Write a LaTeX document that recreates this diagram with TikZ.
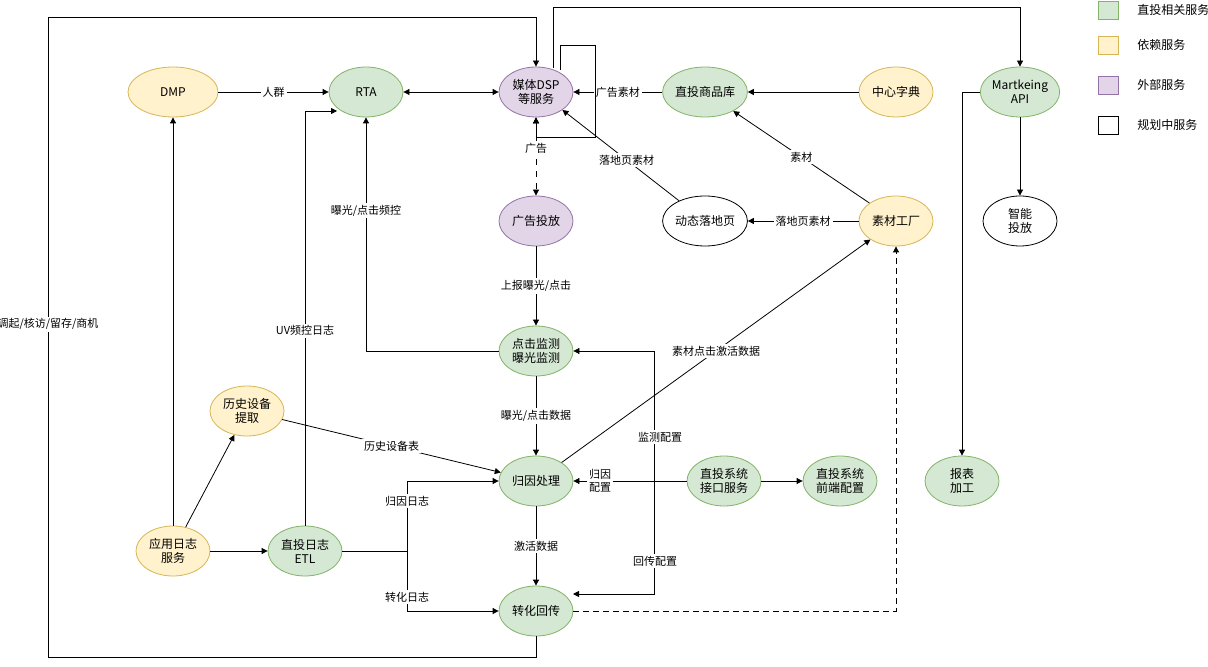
\documentclass[tikz,border=0pt]{standalone}
\usepackage{fontspec}
\setmainfont{Noto Sans CJK SC}
\usetikzlibrary{shapes.geometric,arrows.meta}
\definecolor{gfill}{HTML}{D5E8D4}\definecolor{gline}{HTML}{82B366}
\definecolor{yfill}{HTML}{FFF2CC}\definecolor{yline}{HTML}{D6B656}
\definecolor{pfill}{HTML}{E1D5E7}\definecolor{pline}{HTML}{9673A6}
\tikzset{
  svc/.style={ellipse,draw,minimum width=37pt,minimum height=25pt,inner sep=0pt,
    align=center,font=\fontsize{6}{7}\selectfont},
  grn/.style={svc,fill=gfill,draw=gline},
  ylw/.style={svc,fill=yfill,draw=yline},
  ppl/.style={svc,fill=pfill,draw=pline},
  wht/.style={svc,fill=white,draw=black},
  lbl/.style={fill=white,inner sep=1pt,align=center,font=\fontsize{5.5}{6.5}\selectfont},
  conn/.style={-{Triangle[length=3pt,width=3pt]},line width=0.4pt},
  key/.style={draw,minimum width=10pt,minimum height=9pt,inner sep=0pt}
}
\begin{document}
\begin{tikzpicture}[x=0.5pt,y=-0.5pt]
\useasboundingbox (0,0) rectangle (1208,667);

% Dienste
\node[ylw,minimum width=45pt] (dmp) at (173,92) {DMP};
\node[grn] (rta) at (366,92) {RTA};
\node[ppl] (dsp) at (536,92) {媒体DSP\\等服务};
\node[grn] (sku) at (705,92) {直投商品库};
\node[ylw] (dict) at (896,92) {中心字典};
\node[grn] (mkt) at (1020,92) {Martkeing\\API};
\node[ppl] (ads) at (536,221) {广告投放};
\node[wht] (land) at (705,221) {动态落地页};
\node[ylw] (fab) at (896,221) {素材工厂};
\node[wht] (smart) at (1020,221) {智能\\投放};
\node[grn] (mon) at (536,351) {点击监测\\曝光监测};
\node[ylw] (hist) at (247,411) {历史设备\\提取};
\node[grn] (attr) at (536,481) {归因处理};
\node[grn] (api) at (724,481) {直投系统\\接口服务};
\node[grn] (front) at (840,481) {直投系统\\前端配置};
\node[grn] (rep) at (962,481) {报表\\加工};
\node[ylw] (app) at (173,551) {应用日志\\服务};
\node[grn] (etl) at (305,551) {直投日志\\ETL};
\node[grn] (conv) at (536,611) {转化回传};

% Verbindungen
\draw[conn] (dmp) -- node[lbl] {人群} (rta);
\draw[conn,{Triangle[length=3pt,width=3pt]}-{Triangle[length=3pt,width=3pt]}] (rta) -- (dsp);
\draw[conn] (sku) -- node[lbl] {广告素材} (dsp);
\draw[conn] (dict) -- (sku);
\draw[conn] (560,70) |- (595,45) |- (536,137) -- (dsp.south);
\draw[conn,dashed,{Triangle[length=3pt,width=3pt]}-{Triangle[length=3pt,width=3pt]}] (dsp) -- node[lbl,pos=0.4] {广告} (ads);
\draw[conn] (land) -- node[lbl,pos=0.45] {落地页素材} (dsp.south east);
\draw[conn] (fab) -- node[lbl] {素材} (sku);
\draw[conn] (fab) -- node[lbl] {落地页素材} (land);
\draw[conn] (mkt) -- (smart);
\draw[conn] (mkt.west) -- (962,92) -- (rep.north);
\draw[conn] (conv.south) -- (536,657) -- (48,657) -- node[lbl,pos=0.52] {调起/核访/留存/商机} (48,17) -- (536,17) -- (dsp.north);
\draw[conn] (553,68) -- (553,7) -- (1020,7) -- (mkt.north);
\draw[conn] (ads) -- node[lbl] {上报曝光/点击} (mon);
\draw[conn] (mon.west) -| node[lbl,pos=0.8] {曝光/点击频控} (rta.south);
\draw[conn] (mon) -- node[lbl] {曝光/点击数据} (attr);
\draw[conn] (attr) -- node[lbl] {素材点击激活数据} (fab);
\draw[conn] (hist) -- node[lbl] {历史设备表} (attr);
\draw[conn] (app) -- (dmp);
\draw[conn] (app) -- (hist);
\draw[conn] (app) -- (etl);
\draw[conn] (etl.north) -- node[lbl,pos=0.47] {UV频控日志} (305,111) -- (337,111);
\draw (etl.east) -- (407,551);
\draw[conn] (407,551) |- (attr.west);
\draw[conn] (407,551) |- (conv.west);
\node[lbl] (l1) at (407,501) {归因日志};
\node[lbl] (l2) at (407,597) {转化日志};
\draw[conn] (attr) -- node[lbl] {激活数据} (conv);
\draw[conn] (api) -- (attr);
\node[lbl] (l3) at (600,481) {归因\\配置};
\draw[conn] (654,481) |- (mon.east);
\draw[conn] (654,481) |- (573,594);
\node[lbl] (l4) at (660,437) {监测配置};
\node[lbl] (l5) at (655,561) {回传配置};
\draw[conn] (api) -- (front);
\draw[conn,densely dashed] (conv.east) -| (fab.south);

% Legende
\node[key,fill=gfill,draw=gline] (k1) at (1108,10) {};
\node[key,fill=yfill,draw=yline] (k2) at (1108,45) {};
\node[key,fill=pfill,draw=pline] (k3) at (1108,85) {};
\node[key,fill=white] (k4) at (1108,125) {};
\foreach \k/\t in {k1/直投相关服务,k2/依赖服务,k3/外部服务,k4/规划中服务}
  \node[anchor=west,font=\fontsize{6}{7}\selectfont] at ([xshift=6pt]\k.east) {\t};
\end{tikzpicture}
\end{document}
